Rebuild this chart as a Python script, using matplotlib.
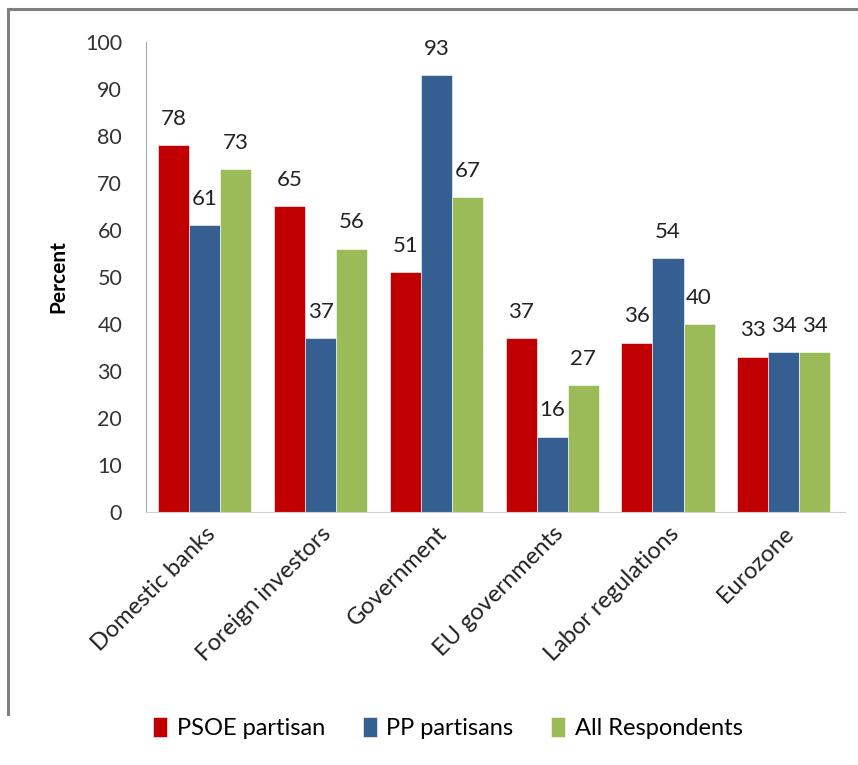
import matplotlib.pyplot as plt
from matplotlib.lines import Line2D
import numpy as np

plt.rcParams['font.family'] = ['Lato', 'DejaVu Sans']

categorias = ['Domestic banks', 'Foreign investors', 'Government',
              'EU governments', 'Labor regulations', 'Eurozone']
psoe = [78, 65, 51, 37, 36, 33]
pp = [61, 37, 93, 16, 54, 34]
todos = [73, 56, 67, 27, 40, 34]

series = [('PSOE partisan', psoe, '#C00000'),
          ('PP partisans', pp, '#365F91'),
          ('All Respondents', todos, '#9BBB59')]

fig = plt.figure(figsize=(8.58, 7.65), dpi=100)
ax = fig.add_axes([0.170, 0.331, 0.815, 0.614])

x = np.arange(len(categorias))
ancho = 0.268
for i, (nombre, valores, color) in enumerate(series):
    pos = x + (i - 1) * ancho
    ax.bar(pos, valores, width=ancho, color=color, label=nombre,
           edgecolor='white', linewidth=0.4)
    for xp, v in zip(pos, valores):
        ax.annotate(str(v), (xp, v), xytext=(0, 19), textcoords='offset points',
                    ha='center', va='center', fontsize=16, color='#222222')

ax.set_xlim(-0.51, 5.53)
ax.set_ylim(0, 100)
ax.set_yticks(range(0, 101, 10))
ax.tick_params(axis='y', length=0, pad=17, labelsize=15.5, labelcolor='#333333')
ax.tick_params(axis='x', length=0, pad=8)
ax.set_xticks(x)
ax.set_xticklabels(categorias, rotation=45, ha='right', va='top',
                   rotation_mode='anchor', fontsize=17, color='#222222')
ax.set_ylabel('Percent', fontsize=15, fontweight='bold', labelpad=12)

for lado in ['top', 'right']:
    ax.spines[lado].set_visible(False)
ax.spines['left'].set_color('#A6A6A6')
ax.spines['bottom'].set_color('#D0D0D0')

ax.legend(loc='center', bbox_to_anchor=(0.522, 0.048), bbox_transform=fig.transFigure,
          ncol=3, frameon=False, fontsize=17, handlelength=0.6, handleheight=0.9,
          handletextpad=0.4, columnspacing=1.6)

# borde del grafico
fig.add_artist(Line2D([0.009, 1.0], [0.988, 0.988], color='#808080', linewidth=2.2))
fig.add_artist(Line2D([0.009, 0.009], [0.988, 0.067], color='#808080', linewidth=2.2))

fig.savefig('out.png', dpi=100)
